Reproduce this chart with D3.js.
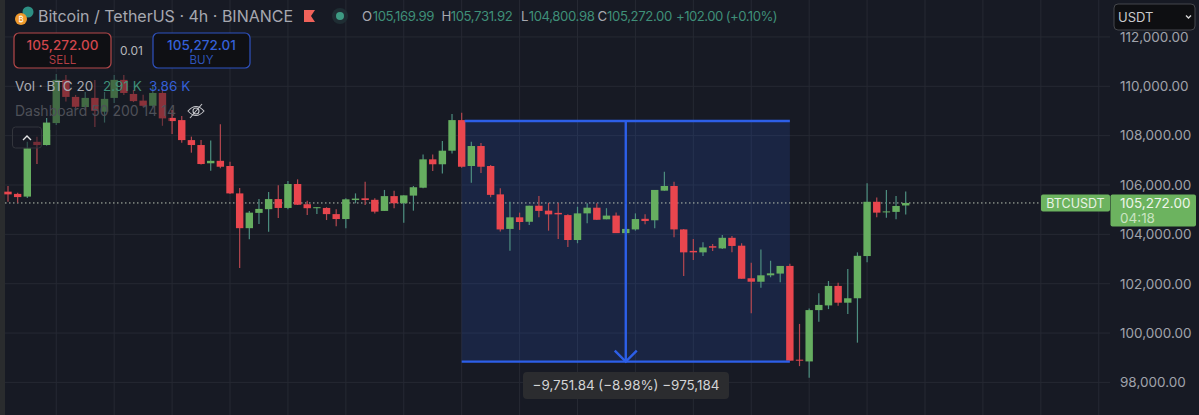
<!DOCTYPE html>
<html>
<head>
<meta charset="utf-8">
<title>BTCUSDT</title>
<script src="https://cdn.jsdelivr.net/npm/d3@7/dist/d3.min.js"></script>
<style>
  html, body { margin: 0; padding: 0; background: #171a24; }
  svg { display: block; font-family: Inter, "Noto Sans", sans-serif; }
</style>
</head>
<body>
<svg id="chart" width="1199" height="415"></svg>
<script>
const opens = [105730,105640,105530,107750,107620,108510,110260,109570,109160,109530,108970,109530,110260,109690,109420,109210,109730,108720,108630,107820,107620,106880,106980,106770,105660,104250,104870,105020,105430,105070,106040,105220,105060,105070,104820,104620,105390,105460,105400,104950,105550,105260,105570,105890,107040,106840,107390,108630,106770,107580,106770,105620,104220,104690,104510,105160,104960,104870,104780,103770,104850,105080,104610,104760,104050,104200,104630,104570,105770,105960,104200,103330,103270,103520,103430,103860,103540,102220,102080,102340,102410,102720,98920,98850,100930,101120,101910,101230,101410,103120,105320,104890,104910,105169.99];
const highs = [105960,105690,107750,107960,108720,110500,110460,109650,109770,110260,109770,110460,110460,109850,109660,110050,109900,109040,108800,107960,107820,107800,108460,106940,105880,104950,105430,105720,105990,106160,106230,105360,105100,105100,105020,105460,105660,106130,105460,105800,105770,105580,105960,107240,107240,107780,108880,108930,107750,107700,106810,105870,105320,104880,105160,105550,105280,105280,104810,105120,105260,105260,105060,104890,104380,104850,104810,105800,106540,106130,104220,103810,103680,103610,103970,103930,103640,102850,103390,102930,102720,102810,100370,101000,101610,102110,102040,102600,103270,106070,105490,105800,105550,105731.92];
const lows = [105320,105280,105470,106850,107600,108430,109380,109120,109040,108350,108530,109320,109650,109360,109160,109160,108400,108070,107710,107310,106830,106580,106680,105640,102640,103800,104420,104110,104660,105020,105190,104780,104820,104580,104330,104250,105260,105190,104850,104950,105060,104470,104960,105870,106570,106470,107280,106700,106090,106490,105500,104120,103340,104180,104380,104690,104150,103810,103490,103640,104450,104580,104610,104050,103930,104150,104410,104250,105770,103880,102310,102960,103120,103330,103410,103270,102200,100800,101840,102260,102060,98880,98660,98190,100460,100970,101110,100770,99610,102870,104690,104670,104610,104800.98];
const closes = [105620,105510,107490,107620,108530,110260,109570,109170,109530,109010,109490,110260,109730,109400,109210,109730,108700,108590,107820,107620,106850,106980,106740,105660,104250,104880,105030,105430,105070,106040,105200,105060,105100,104820,104620,105420,105450,105390,104920,105550,105260,105580,105910,107040,106840,107390,108630,106740,107580,106740,105600,104200,104690,104500,105160,104950,104810,104810,103770,104850,105080,104590,104760,104050,104220,104620,104540,105800,105960,104200,103270,103270,103470,103460,103860,103530,102200,102080,102340,102420,102720,98880,98880,100930,101140,101910,101230,101410,103130,105320,104880,104930,105150,105272];

const priceTicks = [98000,100000,102000,104000,106000,108000,110000,112000];
const lastPrice = 105272;
const measure = { startIndex: 47, endIndex: 81, top: 108594, bottom: 98842.16 };
const measureText = "\u22129,751.84 (\u22128.98%) \u2212975,184";
const ohlcKeys = ["O", "H", "L", "C"];
const ohlcValues = ["105,169.99", "105,731.92", "104,800.98", "105,272.00"];

const GREEN = "#66ae60", GREEN_WICK = "#4d8f80", RED = "#e9464e", RED_WICK = "#b5474f";
const BLUE = "#2d5fe8", BG = "#171a24", TEXT = "#a6a8b0", TEAL = "#3f8f78";

const svg = d3.select("#chart");

const x = d3.scaleLinear().domain([0, 93]).range([8, 905.7]);
const y = d3.scaleLinear().domain([98000, 112000]).range([382.4, 36.95]);

const candles = opens.map((o, i) => ({ i, o, h: highs[i], l: lows[i], c: closes[i] }));

// grid
const gridX = d3.range(5, 114, 6);
const grid = svg.append("g").attr("stroke", "#262933").attr("stroke-width", 1);
grid.selectAll("line.v").data(gridX).join("line")
  .attr("class", "v")
  .attr("x1", d => x(d)).attr("x2", d => x(d))
  .attr("y1", 0).attr("y2", 415);
grid.selectAll("line.h").data(priceTicks).join("line")
  .attr("class", "h")
  .attr("x1", 5).attr("x2", 1110)
  .attr("y1", d => y(d)).attr("y2", d => y(d));

// left edge strip
svg.append("rect").attr("x", 0).attr("y", 0).attr("width", 5).attr("height", 415).attr("fill", "#2a2c2e");

// measure box
const mx0 = x(measure.startIndex), mx1 = x(measure.endIndex);
const mTop = y(measure.top), mBot = y(measure.bottom);
const mMid = (mx0 + mx1) / 2;
svg.append("rect")
  .attr("x", mx0).attr("y", mTop)
  .attr("width", mx1 - mx0).attr("height", mBot - mTop)
  .attr("fill", "#2c5ce0").attr("fill-opacity", 0.17);

// last price line
svg.append("line")
  .attr("x1", 5).attr("x2", 1041)
  .attr("y1", y(lastPrice)).attr("y2", y(lastPrice))
  .attr("stroke", "#b9c2b2").attr("stroke-width", 1).attr("stroke-dasharray", "1.5 2.5");

// candles
const candle = svg.append("g").selectAll("g").data(candles).join("g");
candle.append("line")
  .attr("x1", d => x(d.i)).attr("x2", d => x(d.i))
  .attr("y1", d => y(d.h)).attr("y2", d => y(d.l))
  .attr("stroke", d => d.c >= d.o ? GREEN_WICK : RED_WICK)
  .attr("stroke-width", 1.2);
candle.append("rect")
  .attr("x", d => x(d.i) - 3.7)
  .attr("width", 7.4)
  .attr("y", d => y(Math.max(d.o, d.c)))
  .attr("height", d => Math.max(1, Math.abs(y(d.o) - y(d.c))))
  .attr("fill", d => d.c >= d.o ? GREEN : RED);

// measure lines
const mLines = svg.append("g").attr("stroke", BLUE).attr("fill", "none");
mLines.append("line").attr("x1", mx0 + 3).attr("x2", mx1).attr("y1", mTop).attr("y2", mTop).attr("stroke-width", 2.4);
mLines.append("line").attr("x1", mx0).attr("x2", mx1).attr("y1", mBot).attr("y2", mBot).attr("stroke-width", 2.4);
mLines.append("line").attr("x1", mMid).attr("x2", mMid).attr("y1", mTop).attr("y2", mBot).attr("stroke-width", 2.4);
mLines.append("path")
  .attr("d", d3.line()([[mMid - 11, mBot - 11], [mMid, mBot], [mMid + 11, mBot - 11]]))
  .attr("stroke-width", 2.4);

// measure label
svg.append("rect").attr("x", 523).attr("y", 372).attr("width", 206).attr("height", 27).attr("rx", 4).attr("fill", "#2b2c2f");
svg.append("text").attr("x", 626).attr("y", 390.3).attr("text-anchor", "middle")
  .attr("font-size", 13.4).attr("fill", "#d3d4d6").text(measureText);

// price axis
const axis = svg.append("g").attr("transform", "translate(1116,0)")
  .call(d3.axisRight(y).tickValues(priceTicks).tickSize(0).tickPadding(4).tickFormat(d3.format(",.2f")));
axis.select(".domain").remove();
axis.selectAll("text").attr("font-size", 13.5).attr("font-family", "Inter").attr("fill", "#a0a3ab");

// price tags
const tagY = y(lastPrice);
svg.append("rect").attr("x", 1041).attr("y", tagY - 8.5).attr("width", 69).attr("height", 17).attr("rx", 2).attr("fill", "#6cb35f");
svg.append("text").attr("x", 1075.5).attr("y", tagY + 4.8).attr("text-anchor", "middle")
  .attr("font-size", 12.5).attr("fill", "#e8f2e4").text("BTCUSDT");
svg.append("rect").attr("x", 1110.5).attr("y", tagY - 8.5).attr("width", 85.5).attr("height", 32).attr("rx", 2).attr("fill", "#6cb35f");
svg.append("text").attr("x", 1120).attr("y", tagY + 4.8)
  .attr("font-size", 13.5).attr("fill", "#eef5ea").text(d3.format(",.2f")(lastPrice));
svg.append("text").attr("x", 1120).attr("y", tagY + 20)
  .attr("font-size", 13.5).attr("fill", "#c9e3c2").text("04:18");

// currency select
svg.append("rect").attr("x", 1114).attr("y", 4).attr("width", 81).attr("height", 26).attr("rx", 4)
  .attr("fill", "#0e0f12").attr("stroke", "#45474c");
svg.append("text").attr("x", 1118).attr("y", 22).attr("font-size", 13).attr("fill", "#c9cacc").text("USDT");
svg.append("path").attr("d", d3.line()([[1186, 15.5], [1188.5, 18], [1191, 15.5]]))
  .attr("fill", "none").attr("stroke", "#d5d5d5").attr("stroke-width", 1.4);

// dimmed strip behind the indicator rows
svg.append("rect").attr("x", 50).attr("y", 72).attr("width", 120).attr("height", 58)
  .attr("fill", BG).attr("fill-opacity", 0.45);

// header
svg.append("circle").attr("cx", 28).attr("cy", 12).attr("r", 5.5).attr("fill", "#2d8f84");
svg.append("circle").attr("cx", 21).attr("cy", 19).attr("r", 6).attr("fill", "#ef9a2c");
svg.append("text").attr("x", 21).attr("y", 22).attr("text-anchor", "middle").attr("font-size", 8).attr("fill", "#fff").text("\u20BF");
svg.append("text").attr("x", 38).attr("y", 22).attr("font-size", 16).attr("fill", TEXT).text("Bitcoin / TetherUS \u00B7 4h \u00B7 BINANCE");
svg.append("path").attr("d", "M304,10H315L311,16L315,22H304Z").attr("fill", "#f0625a");
svg.append("circle").attr("cx", 340).attr("cy", 16).attr("r", 8).attr("fill", "#1f2d33");
svg.append("circle").attr("cx", 340).attr("cy", 16).attr("r", 4).attr("fill", "#3e9b83");

// ohlc readout
const ohlcKeyX = [362, 441.5, 521, 597.5];
const ohlcValueX = [372.7, 450.7, 528.7, 607];
const ohlc = svg.append("g").attr("font-size", 13.2);
ohlc.selectAll("text.key").data(ohlcKeys).join("text")
  .attr("class", "key")
  .attr("x", (d, i) => ohlcKeyX[i]).attr("y", 21)
  .attr("fill", TEXT).text(d => d);
ohlc.selectAll("text.value").data(ohlcValues).join("text")
  .attr("class", "value")
  .attr("x", (d, i) => ohlcValueX[i]).attr("y", 21)
  .attr("letter-spacing", -0.4)
  .attr("fill", TEAL).text(d => d);
ohlc.append("text").attr("x", 676).attr("y", 21)
  .attr("letter-spacing", -0.55)
  .attr("fill", TEAL).text("+102.00 (+0.10%)");

// sell / buy buttons
[
  { x: 14, price: "105,272.00", label: "SELL", stroke: "#b5484a", fill: "#d1474d" },
  { x: 153, price: "105,272.01", label: "BUY", stroke: "#2f52c0", fill: "#3560d8" }
].forEach(b => {
  svg.append("rect").attr("x", b.x).attr("y", 33).attr("width", 97).attr("height", 35).attr("rx", 5)
    .attr("fill", "#0f1014").attr("stroke", b.stroke).attr("stroke-width", 1.2);
  svg.append("text").attr("x", b.x + 48.5).attr("y", 49.5).attr("text-anchor", "middle")
    .attr("font-size", 13.5).attr("font-weight", 500).attr("fill", b.fill).text(b.price);
  svg.append("text").attr("x", b.x + 48.5).attr("y", 63.5).attr("text-anchor", "middle")
    .attr("font-size", 11.5).attr("fill", b.fill).attr("fill-opacity", 0.85).text(b.label);
});
svg.append("text").attr("x", 131.5).attr("y", 54.5).attr("text-anchor", "middle")
  .attr("font-size", 12).attr("fill", "#b5b6ba").text("0.01");

// indicator rows
svg.append("text").attr("x", 15).attr("y", 90.5).attr("font-size", 13.5).attr("fill", "#a9abb2").text("Vol \u00B7 BTC 20");
svg.append("text").attr("x", 103).attr("y", 90.5).attr("font-size", 13.5).attr("fill", TEAL).text("2.91 K");
svg.append("text").attr("x", 149).attr("y", 90.5).attr("font-size", 13.5).attr("fill", "#3560d8").text("3.86 K");
svg.append("text").attr("x", 15).attr("y", 116).attr("font-size", 14).attr("fill", "#4e5058").text("Dashboard 50 200 14 14");
const eye = svg.append("g").attr("fill", "none").attr("stroke", "#c5c6ca").attr("stroke-width", 1.1);
eye.append("path").attr("d", "M188,111Q196,102 204,111Q196,120 188,111Z");
eye.append("circle").attr("cx", 196).attr("cy", 111).attr("r", 3);
eye.append("line").attr("x1", 190).attr("y1", 118).attr("x2", 202).attr("y2", 104);

// collapse button
svg.append("rect").attr("x", 12.5).attr("y", 127).attr("width", 29).attr("height", 21).attr("rx", 3)
  .attr("fill", BG).attr("fill-opacity", 0.55).attr("stroke", "#33353c");
svg.append("path").attr("d", d3.line()([[23, 140], [27, 136], [31, 140]]))
  .attr("fill", "none").attr("stroke", "#e2e2e4").attr("stroke-width", 1.4);
</script>
</body>
</html>
